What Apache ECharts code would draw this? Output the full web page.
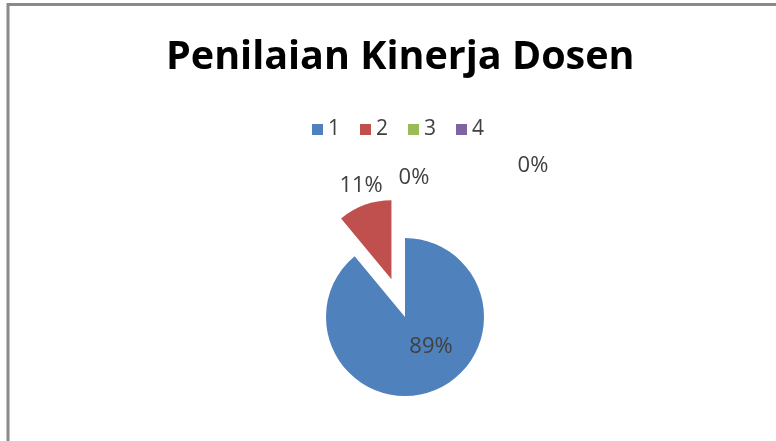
<!DOCTYPE html>
<html>
<head>
<meta charset="utf-8">
<script src="https://cdn.jsdelivr.net/npm/echarts@6/dist/echarts.min.js"></script>
<style>
html,body{margin:0;padding:0;background:#fff;}
#chart{width:776px;height:441px;}
</style>
</head>
<body>
<div id="chart"></div>
<script>
var categories = ['1', '2', '3', '4'];
var values = [89, 11, 0, 0];
var percentLabels = ['89%', '11%', '0%', '0%'];
var colors = ['#4F81BD', '#C0504D', '#9BBB59', '#8064A2'];
var labelPos = [[431, 347], [360, 184], [414, 178], [533, 166]];
var selectedLabelShift = [-16, -54];

var chart = echarts.init(document.getElementById('chart'));
var data = categories.map(function (c, i) {
  var item = { name: c, value: values[i], selected: i === 1, itemStyle: { color: colors[i] } };
  if (i === 1) {
    item.label = { offset: selectedLabelShift };
    item.select = { label: { offset: selectedLabelShift } };
  }
  return item;
});
chart.setOption({
  animation: false,
  backgroundColor: '#fff',
  title: {
    text: 'Penilaian Kinerja Dosen',
    left: 161,
    top: 33,
    textStyle: { fontFamily: 'Open Sans', fontWeight: 'bold', fontSize: 39.5, color: '#000' }
  },
  legend: {
    top: 114,
    left: 307,
    itemWidth: 11,
    itemHeight: 11,
    itemGap: 20,
    icon: 'rect',
    selectedMode: false,
    textStyle: { fontFamily: 'Open Sans', fontSize: 21, color: '#404040' },
    data: categories
  },
  graphic: [{
    type: 'rect',
    shape: { x: 8, y: 4.5, width: 900, height: 600 },
    style: { fill: 'none', stroke: '#8a8a8a', lineWidth: 3 },
    silent: true
  }],
  series: [{
    type: 'pie',
    center: [405, 317],
    radius: 79,
    startAngle: 90,
    clockwise: true,
    selectedMode: 'single',
    selectedOffset: 40,
    avoidLabelOverlap: false,
    stillShowZeroSum: true,
    label: {
      show: true,
      position: 'inside',
      formatter: function (p) { return percentLabels[p.dataIndex]; },
      fontFamily: 'Open Sans',
      fontSize: 22,
      color: '#404040'
    },
    labelLine: { show: false },
    labelLayout: function (p) {
      var pos = labelPos[p.dataIndex];
      return { x: pos[0], y: pos[1], align: 'center', verticalAlign: 'middle' };
    },
    emphasis: { disabled: true },
    data: data
  }]
});
</script>
</body>
</html>
